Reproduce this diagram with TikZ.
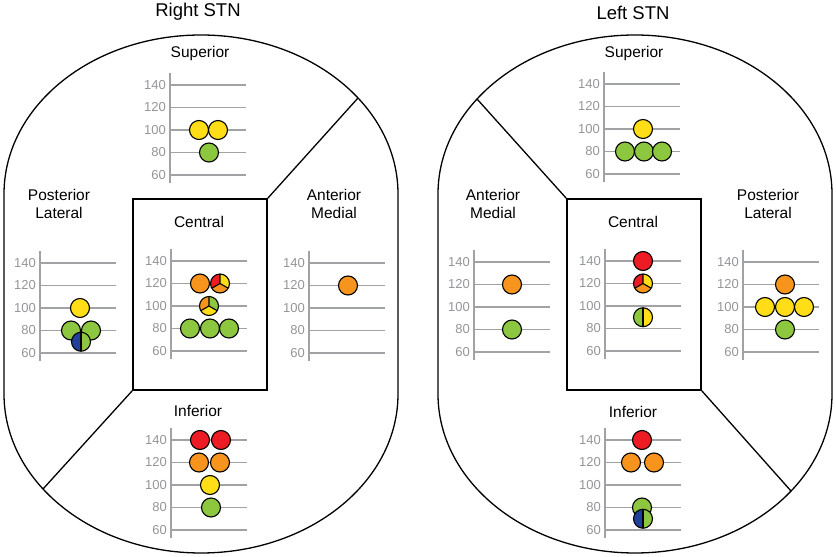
\documentclass[tikz,border=0pt]{standalone}
\usepackage{fontspec}
\setmainfont{Liberation Sans}
\usepackage{tikz}

\definecolor{cred}{HTML}{ED1C24}
\definecolor{corange}{HTML}{F7941D}
\definecolor{cyellow}{HTML}{FFDE17}
\definecolor{cgreen}{HTML}{8DC63F}
\definecolor{cblue}{HTML}{21409A}
\definecolor{cgrid}{HTML}{A0A2A5}
\definecolor{ctick}{HTML}{939598}

% value (60..140) -> local height
\newcommand{\lvl}[1]{(#1-60)*1.125}

\newcommand{\stngrid}[1]{%
  \draw[gridline] (0,-8) -- (0,102);
  \foreach \v in {60,80,...,140}{
    \draw[gridline] (0,{\lvl{\v}}) -- (76,{\lvl{\v}});
    \node[ticklabel] (#1-\v) at (-4,{\lvl{\v}}) {\v};}}

% dx, value, left part, upper right part, lower part
\newcommand{\tripie}[5]{%
  \fill[#3] (#1,{\lvl{#2}}) -- ++(90:9.5pt) arc[start angle=90,end angle=210,radius=9.5pt] -- cycle;
  \fill[#4] (#1,{\lvl{#2}}) -- ++(-30:9.5pt) arc[start angle=-30,end angle=90,radius=9.5pt] -- cycle;
  \fill[#5] (#1,{\lvl{#2}}) -- ++(210:9.5pt) arc[start angle=210,end angle=330,radius=9.5pt] -- cycle;
  \draw[rim] (#1,{\lvl{#2}}) -- ++(90:9.5pt) (#1,{\lvl{#2}}) -- ++(210:9.5pt) (#1,{\lvl{#2}}) -- ++(330:9.5pt);
  \draw[rim] (#1,{\lvl{#2}}) circle[radius=9.5pt];}

% dx, value, left half, right half
\newcommand{\halfpie}[4]{%
  \fill[#3] (#1,{\lvl{#2}}) -- ++(90:9.5pt) arc[start angle=90,end angle=270,radius=9.5pt] -- cycle;
  \fill[#4] (#1,{\lvl{#2}}) -- ++(-90:9.5pt) arc[start angle=-90,end angle=90,radius=9.5pt] -- cycle;
  \draw[rim] (#1,{\lvl{#2}}) ++(0,9.5pt) -- ++(0,-19pt);
  \draw[rim] (#1,{\lvl{#2}}) circle[radius=9.5pt];}

\begin{document}
\begin{tikzpicture}[x=1pt,y=1pt,
    outline/.style={line width=1.3pt},
    region/.style={draw,line width=1.7pt,minimum width=134pt,minimum height=191pt,inner sep=0pt},
    gridline/.style={cgrid,line width=1.8pt},
    ticklabel/.style={anchor=east,inner sep=0pt,text=ctick,font=\fontsize{13}{15}\selectfont},
    title/.style={font=\fontsize{18.5}{22}\selectfont},
    zone/.style={align=center,font=\fontsize{15.5}{18}\selectfont},
    spot/.style={circle,draw=black,line width=1.1pt,fill=#1,minimum size=19pt,inner sep=0pt},
    rim/.style={draw=black,line width=1.1pt}]
  \useasboundingbox (0,0) rectangle (836,557);

  % ---- Right STN
  \draw[outline] (4,163) -- (4,363) arc[start angle=180,end angle=0,x radius=197pt,y radius=159pt]
    -- (398,163) arc[start angle=0,end angle=-180,x radius=197pt,y radius=159pt] -- cycle;
  \node[region] (rbox) at (200,262.5) {};
  \coordinate (rne) at (358,459);
  \coordinate (rsw) at (43,68);
  \draw[outline] (rbox.north east) -- (rne);
  \draw[outline] (rbox.south west) -- (rsw);
  \node[title] (rtitle) at (198,545) {Right STN};
  \node[zone] (rsuplab) at (200,504) {Superior};
  \node[zone] (rpllab) at (59,353) {Posterior\\Lateral};
  \node[zone] (ramlab) at (334,353) {Anterior\\Medial};
  \node[zone] (rcenlab) at (199,335) {Central};
  \node[zone] (rinflab) at (198,146) {Inferior};

  \begin{scope}[shift={(170,382)}]
    \stngrid{rsup}
    \foreach \dx/\v/\c [count=\i] in {29/100/cyellow,48/100/cyellow,39/80/cgreen}
      \node[spot=\c] (rsup\i) at (\dx,{\lvl{\v}}) {};
  \end{scope}
  \begin{scope}[shift={(40,204)}]
    \stngrid{rpl}
    \foreach \dx/\v/\c [count=\i] in {40/100/cyellow,31/80/cgreen,51/80/cgreen}
      \node[spot=\c] (rpl\i) at (\dx,{\lvl{\v}}) {};
    \halfpie{41}{70}{cblue}{cgreen}
  \end{scope}
  \begin{scope}[shift={(171,206)}]
    \stngrid{rcen}
    \foreach \dx/\v/\c [count=\i] in {29/120/corange,19/80/cgreen,39/80/cgreen,58/80/cgreen}
      \node[spot=\c] (rcen\i) at (\dx,{\lvl{\v}}) {};
    \tripie{49}{120}{cred}{cyellow}{corange}
    \tripie{38}{100}{corange}{cgreen}{cyellow}
  \end{scope}
  \begin{scope}[shift={(309,204)}]
    \stngrid{ram}
    \node[spot=corange] (ram1) at (39,{\lvl{120}}) {};
  \end{scope}
  \begin{scope}[shift={(171,27)}]
    \stngrid{rinf}
    \foreach \dx/\v/\c [count=\i] in {29/140/cred,50/140/cred,28/120/corange,49/120/corange,39/100/cyellow,40/80/cgreen}
      \node[spot=\c] (rinf\i) at (\dx,{\lvl{\v}}) {};
  \end{scope}

  % ---- Left STN
  \draw[outline] (438,163) -- (438,363) arc[start angle=180,end angle=0,x radius=197pt,y radius=159pt]
    -- (832,163) arc[start angle=0,end angle=-180,x radius=197pt,y radius=159pt] -- cycle;
  \node[region] (lbox) at (634,262.5) {};
  \coordinate (lnw) at (477,458);
  \coordinate (lse) at (791,66);
  \draw[outline] (lbox.north west) -- (lnw);
  \draw[outline] (lbox.south east) -- (lse);
  \node[title] (ltitle) at (633,544) {Left STN};
  \node[zone] (lsuplab) at (634,504) {Superior};
  \node[zone] (lamlab) at (493,353) {Anterior\\Medial};
  \node[zone] (lpllab) at (768,353) {Posterior\\Lateral};
  \node[zone] (lcenlab) at (633,335) {Central};
  \node[zone] (linflab) at (633,145) {Inferior};

  \begin{scope}[shift={(604,383)}]
    \stngrid{lsup}
    \foreach \dx/\v/\c [count=\i] in {39/100/cyellow,21/80/cgreen,40/80/cgreen,58/80/cgreen}
      \node[spot=\c] (lsup\i) at (\dx,{\lvl{\v}}) {};
  \end{scope}
  \begin{scope}[shift={(474,205)}]
    \stngrid{lam}
    \foreach \dx/\v/\c [count=\i] in {38/120/corange,38/80/cgreen}
      \node[spot=\c] (lam\i) at (\dx,{\lvl{\v}}) {};
  \end{scope}
  \begin{scope}[shift={(605,206)}]
    \stngrid{lcen}
    \node[spot=cred] (lcen1) at (38,{\lvl{140}}) {};
    \tripie{38}{120}{cred}{cyellow}{corange}
    \halfpie{38}{90}{cgreen}{cyellow}
  \end{scope}
  \begin{scope}[shift={(743,205)}]
    \stngrid{lpl}
    \foreach \dx/\v/\c [count=\i] in {42/120/corange,22/100/cyellow,42/100/cyellow,61/100/cyellow,42/80/cgreen}
      \node[spot=\c] (lpl\i) at (\dx,{\lvl{\v}}) {};
  \end{scope}
  \begin{scope}[shift={(605,27)}]
    \stngrid{linf}
    \foreach \dx/\v/\c [count=\i] in {37/140/cred,26/120/corange,49/120/corange,37/80/cgreen}
      \node[spot=\c] (linf\i) at (\dx,{\lvl{\v}}) {};
    \halfpie{38}{70}{cblue}{cgreen}
  \end{scope}
\end{tikzpicture}
\end{document}
